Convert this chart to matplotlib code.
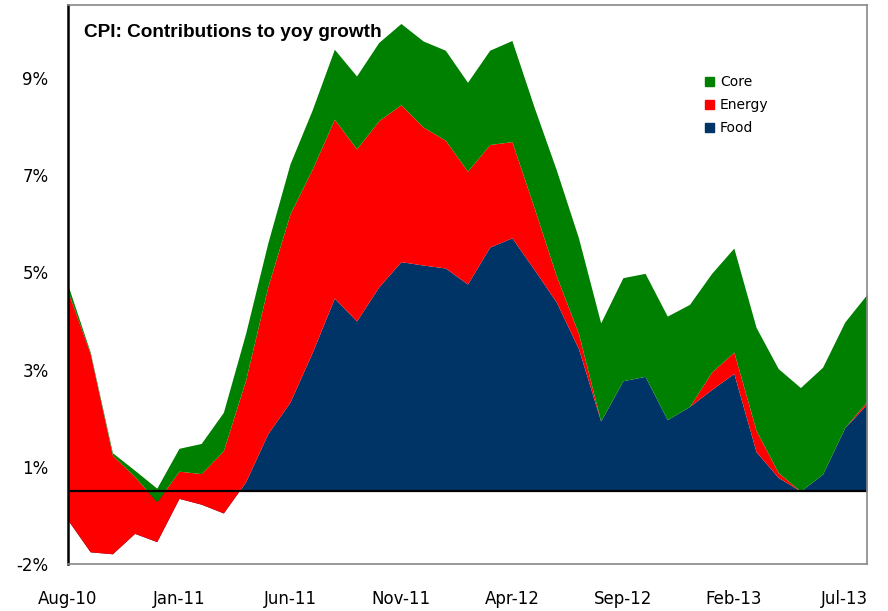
import numpy as np
import pandas as pd
import matplotlib
matplotlib.use("Agg")
import matplotlib.pyplot as plt
from matplotlib.patches import Patch

# Monthly contributions to yoy CPI growth, Aug-10 .. Aug-13 (percentage points)
months = pd.date_range("2010-08-01", periods=37, freq="MS")
food = [-0.60, -1.25, -1.29, -0.87, -1.04, -0.15, -0.27, -0.45, 0.19, 1.18,
        1.83, 2.85, 3.97, 3.50, 4.20, 4.72, 4.65, 4.59, 4.26, 5.02,
        5.21, 4.56, 3.89, 2.93, 1.44, 2.27, 2.36, 1.47, 1.74, 2.09,
        2.42, 0.81, 0.28, 0.00, 0.35, 1.31, 1.79]
energy = [4.70, 4.08, 2.03, 1.17, 0.82, 0.56, 0.63, 1.28, 2.09, 3.02,
          3.87, 3.77, 3.68, 3.54, 3.42, 3.23, 2.84, 2.63, 2.32, 2.11,
          1.98, 1.27, 0.54, 0.31, 0.00, 0.00, 0.00, 0.00, 0.00, 0.36,
          0.44, 0.44, 0.10, 0.00, 0.00, 0.00, 0.06]
core = [0.13, 0.03, 0.05, 0.13, 0.28, 0.47, 0.62, 0.79, 0.96, 0.90,
        1.03, 1.22, 1.44, 1.50, 1.61, 1.67, 1.77, 1.85, 1.83, 1.94,
        2.08, 2.07, 2.18, 1.97, 2.02, 2.12, 2.12, 2.13, 2.10, 2.03,
        2.14, 2.12, 2.14, 2.13, 2.20, 2.17, 2.20]

ytick_vals = [-1.5, 0.5, 2.5, 4.5, 6.5, 8.5]
ytick_labels = ["-2%", "1%", "3%", "5%", "7%", "9%"]

navy = "#003366"
red = "#ff0000"
green = "#008000"

x = np.arange(len(months))
food = np.array(food)
fe = food + np.array(energy)
total = fe + np.array(core)

fig = plt.figure(figsize=(8.88, 6.11), dpi=100)
ax = fig.add_axes([68 / 888, 1 - 564 / 611, (867 - 68) / 888, (564 - 5) / 611])

# drawn in series order like a stacked area chart
ax.fill_between(x, 0, food, color=navy, lw=0)
ax.fill_between(x, food, fe, color=red, lw=0)
ax.fill_between(x, fe, total, color=green, lw=0)
ax.axhline(0, color="black", lw=1.6)

ax.set_xlim(0, len(months) - 1)
ax.set_ylim(-1.5, 10)
ax.set_yticks(ytick_vals)
ax.set_yticklabels(ytick_labels)
ax.set_xticks(x[::5])
ax.set_xticklabels([m.strftime("%b-%y") for m in months[::5]])
ax.tick_params(axis="y", length=0, pad=14, labelsize=12)
ax.tick_params(axis="x", length=0, pad=19, labelsize=12)

for s in ["top", "right", "bottom"]:
    ax.spines[s].set_color("#888888")
    ax.spines[s].set_linewidth(1.2)
ax.spines["left"].set_color("black")
ax.spines["left"].set_linewidth(1.8)

ax.text(0.02, 0.95, "CPI: Contributions to yoy growth", transform=ax.transAxes,
        fontsize=13.7, fontweight="bold", family="Liberation Sans", va="center")

handles = [Patch(color=green, label="Core"), Patch(color=red, label="Energy"),
           Patch(color=navy, label="Food")]
ax.legend(handles=handles, loc="upper left", bbox_to_anchor=(0.79, 0.884),
          frameon=False, fontsize=10, handlelength=0.65, handleheight=0.65,
          handletextpad=0.45, labelspacing=0.65, borderaxespad=0)

fig.savefig("out.png", dpi=100)
